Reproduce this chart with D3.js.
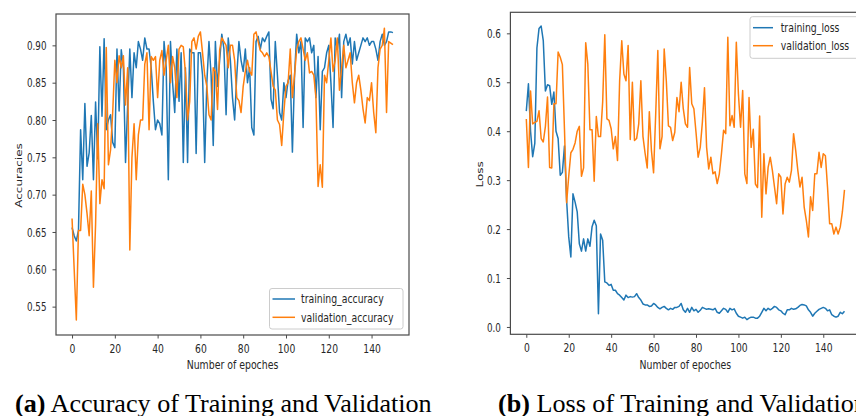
<!DOCTYPE html>
<html>
<head>
<meta charset="utf-8">
<script src="https://cdn.jsdelivr.net/npm/d3@7"></script>
<style>
  html, body { margin: 0; padding: 0; background: #ffffff; }
  svg { display: block; }
</style>
</head>
<body>
<svg id="chart" width="856" height="416"></svg>
<script>
// ---------------- data ----------------
const epochs = d3.range(0, 151);

const trainingAccuracy = [
  0.656, 0.645, 0.638, 0.652, 0.787, 0.720, 0.822, 0.738, 0.756, 0.806,
  0.720, 0.824, 0.748, 0.898, 0.805, 0.909, 0.787, 0.800, 0.807, 0.770,
  0.763, 0.895, 0.812, 0.894, 0.870, 0.743, 0.820, 0.895, 0.830, 0.890,
  0.870, 0.905, 0.895, 0.880, 0.910, 0.895, 0.895, 0.870, 0.825, 0.787,
  0.800, 0.795, 0.780, 0.905, 0.870, 0.720, 0.905, 0.850, 0.810, 0.895,
  0.825, 0.890, 0.743, 0.870, 0.743, 0.895, 0.890, 0.890, 0.755, 0.890,
  0.890, 0.860, 0.743, 0.850, 0.905, 0.860, 0.766, 0.905, 0.845, 0.880,
  0.915, 0.895, 0.807, 0.910, 0.880, 0.830, 0.800, 0.860, 0.905, 0.880,
  0.865, 0.895, 0.850, 0.870, 0.790, 0.780, 0.905, 0.912, 0.895, 0.910,
  0.905, 0.912, 0.918, 0.828, 0.815, 0.905, 0.860, 0.810, 0.800, 0.850,
  0.830, 0.853, 0.860, 0.757, 0.860, 0.915, 0.890, 0.905, 0.790, 0.910,
  0.905, 0.910, 0.890, 0.900, 0.830, 0.885, 0.787, 0.865, 0.870, 0.890,
  0.900, 0.850, 0.790, 0.910, 0.895, 0.915, 0.830, 0.905, 0.915, 0.900,
  0.910, 0.875, 0.905, 0.880, 0.890, 0.900, 0.910, 0.905, 0.910, 0.900,
  0.905, 0.905, 0.895, 0.880, 0.905, 0.915, 0.900, 0.905, 0.918, 0.918,
  0.917
];

const validationAccuracy = [
  0.668, 0.600, 0.532, 0.652, 0.652, 0.714, 0.700, 0.675, 0.645, 0.705,
  0.576, 0.660, 0.795, 0.688, 0.720, 0.708, 0.897, 0.740, 0.760, 0.810,
  0.880, 0.850, 0.886, 0.870, 0.886, 0.820, 0.870, 0.626, 0.750, 0.795,
  0.720, 0.780, 0.800, 0.800, 0.875, 0.890, 0.787, 0.885, 0.880, 0.885,
  0.830, 0.880, 0.893, 0.860, 0.880, 0.900, 0.850, 0.885, 0.870, 0.830,
  0.895, 0.900, 0.898, 0.863, 0.800, 0.825, 0.905, 0.910, 0.895, 0.912,
  0.918, 0.890, 0.860, 0.845, 0.807, 0.800, 0.870, 0.865, 0.814, 0.894,
  0.910, 0.905, 0.900, 0.870, 0.900, 0.900, 0.880, 0.830, 0.826, 0.810,
  0.845, 0.865, 0.880, 0.865, 0.860, 0.915, 0.918, 0.905, 0.893, 0.890,
  0.885, 0.890, 0.885, 0.865, 0.845, 0.840, 0.800, 0.794, 0.766, 0.810,
  0.845, 0.850, 0.895, 0.830, 0.860, 0.895, 0.905, 0.910, 0.895, 0.880,
  0.890, 0.863, 0.865, 0.860, 0.830, 0.711, 0.740, 0.710, 0.860, 0.850,
  0.880, 0.910, 0.865, 0.880, 0.910, 0.840, 0.870, 0.900, 0.870, 0.880,
  0.890, 0.850, 0.823, 0.850, 0.860, 0.840, 0.815, 0.796, 0.830, 0.826,
  0.850, 0.810, 0.783, 0.870, 0.895, 0.900, 0.923, 0.810, 0.905, 0.903,
  0.901
];

const trainingLoss = [
  0.441, 0.497, 0.400, 0.348, 0.375, 0.570, 0.610, 0.615, 0.585, 0.482,
  0.495, 0.493, 0.455, 0.480, 0.400, 0.385, 0.310, 0.316, 0.370, 0.259,
  0.184, 0.143, 0.272, 0.255, 0.235, 0.170, 0.155, 0.180, 0.155, 0.180,
  0.165, 0.205, 0.218, 0.207, 0.027, 0.190, 0.177, 0.092, 0.090, 0.085,
  0.087, 0.075, 0.075, 0.068, 0.065, 0.060, 0.055, 0.065, 0.060, 0.062,
  0.061, 0.062, 0.068, 0.060, 0.055, 0.047, 0.045, 0.045, 0.042, 0.043,
  0.048, 0.045, 0.040, 0.037, 0.040, 0.042, 0.038, 0.035, 0.038, 0.036,
  0.040, 0.040, 0.042, 0.048, 0.035, 0.030, 0.038, 0.030, 0.040, 0.033,
  0.036, 0.030, 0.034, 0.040, 0.038, 0.036, 0.037, 0.036, 0.035, 0.038,
  0.030, 0.028, 0.033, 0.038, 0.036, 0.030, 0.038, 0.035, 0.037, 0.028,
  0.022, 0.020, 0.018, 0.020, 0.015, 0.018, 0.020, 0.020, 0.018, 0.018,
  0.022, 0.030, 0.038, 0.033, 0.038, 0.035, 0.038, 0.042, 0.040, 0.035,
  0.033, 0.028, 0.025, 0.035, 0.035, 0.038, 0.036, 0.037, 0.040, 0.044,
  0.046, 0.045, 0.043, 0.035, 0.030, 0.022, 0.028, 0.032, 0.036, 0.038,
  0.040, 0.038, 0.033, 0.035, 0.025, 0.022, 0.020, 0.022, 0.030, 0.027,
  0.032
];

const validationLoss = [
  0.425, 0.326, 0.482, 0.415, 0.418, 0.420, 0.442, 0.385, 0.378, 0.410,
  0.470, 0.326, 0.325, 0.456, 0.456, 0.562, 0.551, 0.536, 0.403, 0.254,
  0.308, 0.356, 0.363, 0.376, 0.400, 0.410, 0.308, 0.325, 0.581, 0.537,
  0.403, 0.403, 0.298, 0.430, 0.389, 0.389, 0.460, 0.597, 0.425, 0.422,
  0.405, 0.364, 0.389, 0.340, 0.503, 0.585, 0.517, 0.503, 0.575, 0.383,
  0.500, 0.381, 0.385, 0.415, 0.503, 0.389, 0.355, 0.325, 0.440, 0.360,
  0.315, 0.435, 0.565, 0.364, 0.389, 0.568, 0.503, 0.411, 0.408, 0.381,
  0.398, 0.469, 0.440, 0.500, 0.446, 0.415, 0.408, 0.530, 0.456, 0.446,
  0.398, 0.347, 0.367, 0.418, 0.489, 0.367, 0.323, 0.347, 0.313, 0.317,
  0.293, 0.313, 0.354, 0.402, 0.395, 0.592, 0.411, 0.432, 0.408, 0.582,
  0.476, 0.408, 0.483, 0.313, 0.293, 0.469, 0.367, 0.404, 0.292, 0.285,
  0.431, 0.224, 0.354, 0.272, 0.326, 0.347, 0.320, 0.286, 0.252, 0.313,
  0.306, 0.231, 0.292, 0.306, 0.296, 0.320, 0.395, 0.361, 0.320, 0.286,
  0.306, 0.245, 0.218, 0.184, 0.266, 0.238, 0.313, 0.313, 0.357, 0.326,
  0.354, 0.350, 0.286, 0.211, 0.211, 0.190, 0.204, 0.190, 0.204, 0.235,
  0.280
];

const xTicks = [0, 20, 40, 60, 80, 100, 120, 140];
const accTicks = [0.55, 0.60, 0.65, 0.70, 0.75, 0.80, 0.85, 0.90];
const lossTicks = [0.0, 0.1, 0.2, 0.3, 0.4, 0.5, 0.6];
const accNames = ["training_accuracy", "validation_accuracy"];
const lossNames = ["training_loss", "validation_loss"];
const captionA = ["(a)", " Accuracy of Training and Validation"];
const captionB = ["(b)", " Loss of Training and Validation"];

// ---------------- style ----------------
const BLUE = "#1f77b4", ORANGE = "#ff7f0e";
const SPINE = "#4a4a4a", TEXT = "#262626";
const FONT = "'DejaVu Sans', sans-serif";
const SQ = 0.76; // horizontal squeeze of the original raster

const svg = d3.select("#chart");

function sqText(g, x, y, str, opts = {}) {
  const t = g.append("text")
    .attr("transform", `translate(${x},${y}) scale(${opts.sx ?? SQ},1)`)
    .attr("font-family", FONT)
    .attr("font-size", opts.size ?? 12)
    .attr("fill", TEXT)
    .attr("text-anchor", opts.anchor ?? "start")
    .text(str);
  return t;
}

function panel(cfg) {
  const g = svg.append("g");
  const x = d3.scaleLinear().domain([-7.5, 157.5]).range(cfg.xRange);
  const y = d3.scaleLinear().domain(cfg.yDomain).range(cfg.yRange);
  const [x0, x1] = cfg.xRange;
  const [yb, yt] = cfg.yRange;

  // lines
  const line = d3.line().x((d, i) => x(epochs[i])).y(d => y(d));
  cfg.series.forEach((s, k) => {
    g.append("path")
      .datum(s)
      .attr("fill", "none")
      .attr("stroke", cfg.colors[k])
      .attr("stroke-width", 1.5)
      .attr("stroke-linejoin", "round")
      .attr("d", line);
  });

  // x axis
  const xa = g.append("g").attr("transform", `translate(0,${yb})`)
    .call(d3.axisBottom(x).tickValues(xTicks).tickSize(3.5).tickFormat(d3.format("d")));
  xa.select(".domain").remove();
  xa.selectAll(".tick line").attr("stroke", SPINE).attr("stroke-width", 1);
  xa.selectAll(".tick text").each(function(d) {
    d3.select(this)
      .attr("x", null).attr("y", null).attr("dy", null)
      .attr("transform", `translate(0,18) scale(${SQ + 0.04},1)`)
      .attr("font-family", FONT).attr("font-size", 11.5)
      .attr("fill", TEXT).attr("text-anchor", "middle");
  });

  // y axis
  const ya = g.append("g").attr("transform", `translate(${x0},0)`)
    .call(d3.axisLeft(y).tickValues(cfg.yTicks).tickSize(3.5).tickFormat(d3.format(cfg.fmt)));
  ya.select(".domain").remove();
  ya.selectAll(".tick line").attr("stroke", SPINE).attr("stroke-width", 1);
  ya.selectAll(".tick text").each(function(d) {
    d3.select(this)
      .attr("x", null).attr("y", null).attr("dy", null)
      .attr("transform", `translate(-9.5,4.3) scale(${SQ - 0.03},1)`)
      .attr("font-family", FONT).attr("font-size", 12)
      .attr("fill", TEXT).attr("text-anchor", "end");
  });

  // frame
  g.append("rect")
    .attr("x", x0).attr("y", yt)
    .attr("width", x1 - x0).attr("height", yb - yt)
    .attr("fill", "none").attr("stroke", SPINE).attr("stroke-width", 1.2);

  // axis labels
  sqText(g, (x0 + x1) / 2, 369, "Number of epoches", { anchor: "middle", sx: 0.78 });
  g.append("text")
    .attr("transform", `translate(${cfg.yLabelX},${(yb + yt) / 2 + 1}) rotate(-90) scale(1,${SQ})`)
    .attr("font-family", FONT).attr("font-size", 12)
    .attr("fill", TEXT).attr("text-anchor", "middle")
    .text(cfg.yLabel);

  // legend
  const L = cfg.legend;
  g.append("rect")
    .attr("x", L.x).attr("y", L.y).attr("width", L.w).attr("height", L.h)
    .attr("rx", 2.5).attr("fill", "#ffffff").attr("fill-opacity", 0.85)
    .attr("stroke", "#cccccc").attr("stroke-width", 1);
  cfg.names.forEach((name, k) => {
    const cy = L.rows[k];
    g.append("line")
      .attr("x1", L.lx1).attr("x2", L.lx2).attr("y1", cy).attr("y2", cy)
      .attr("stroke", cfg.colors[k]).attr("stroke-width", 1.5);
    sqText(g, L.tx, cy + 4.2, name, { sx: 0.81, size: 11.5 });
  });
}

panel({
  xRange: [56, 409],
  yRange: [335, 14],
  yDomain: [0.512, 0.942],
  yTicks: accTicks,
  fmt: ".2f",
  series: [trainingAccuracy, validationAccuracy],
  colors: [BLUE, ORANGE],
  names: accNames,
  yLabel: "Accuracies",
  yLabelX: 21.5,
  legend: { x: 269.5, y: 288.5, w: 133.5, h: 40.5, rows: [299, 317.3], lx1: 272.5, lx2: 295, tx: 301 }
});

panel({
  xRange: [510.4, 860.4],
  yRange: [334.3, 12.3],
  yDomain: [-0.015, 0.643],
  yTicks: lossTicks,
  fmt: ".1f",
  series: [trainingLoss, validationLoss],
  colors: [BLUE, ORANGE],
  names: lossNames,
  yLabel: "Loss",
  yLabelX: 483,
  legend: { x: 750, y: 16.7, w: 120, h: 41.6, rows: [27.7, 45.7], lx1: 753, lx2: 773, tx: 780.7 }
});

// captions
function caption(x, parts) {
  const t = svg.append("text")
    .attr("transform", `translate(${x},411.5) scale(1.08,1)`)
    .attr("font-family", "'Liberation Serif', 'Times New Roman', serif")
    .attr("font-size", 24.2).attr("fill", "#000");
  t.append("tspan").attr("font-weight", "bold").text(parts[0]);
  t.append("tspan").text(parts[1]);
}
caption(15, captionA);
caption(498, captionB);
</script>
</body>
</html>
